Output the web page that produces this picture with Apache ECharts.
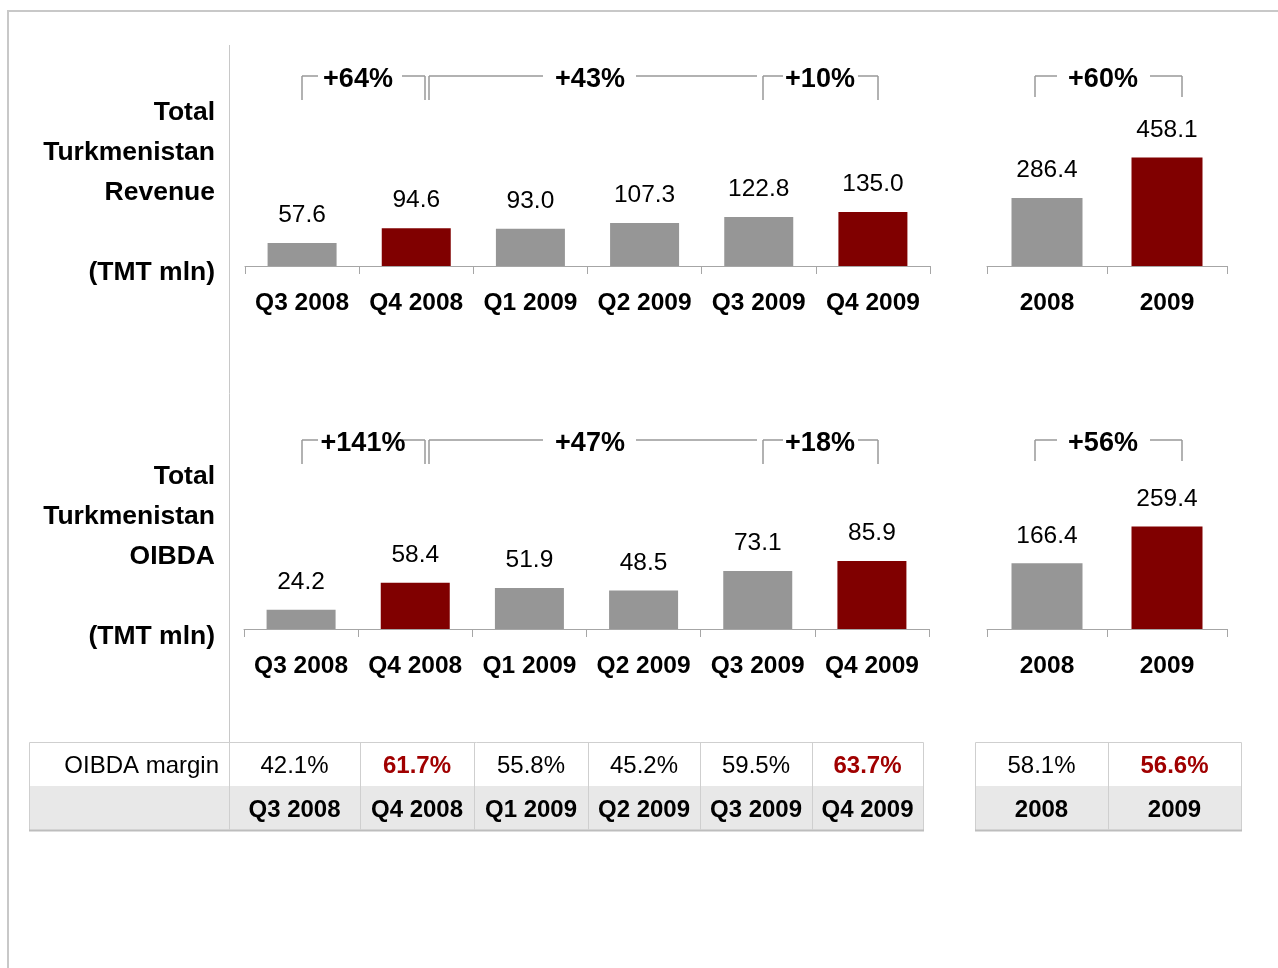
<!DOCTYPE html>
<html>
<head>
<meta charset="utf-8">
<script src="https://cdn.jsdelivr.net/npm/echarts@6/dist/echarts.min.js"></script>
<style>
html,body{margin:0;padding:0;background:#fff;}
#main{width:1278px;height:968px;}
</style>
</head>
<body>
<div id="main"></div>
<script>
// ---- Data ----
var quarters = ['Q3 2008', 'Q4 2008', 'Q1 2009', 'Q2 2009', 'Q3 2009', 'Q4 2009'];
var years = ['2008', '2009'];
var revenueQ = [57.6, 94.6, 93.0, 107.3, 122.8, 135.0];
var revenueY = [286.4, 458.1];
var oibdaQ = [24.2, 58.4, 51.9, 48.5, 73.1, 85.9];
var oibdaY = [166.4, 259.4];
var highlightQ = [false, true, false, false, false, true];
var highlightY = [false, true];
var marginQ = ['42.1%', '61.7%', '55.8%', '45.2%', '59.5%', '63.7%'];
var marginY = ['58.1%', '56.6%'];
var revGrowth = ['+64%', '+43%', '+10%'];
var revGrowthY = '+60%';
var oibdaGrowth = ['+141%', '+47%', '+18%'];
var oibdaGrowthY = '+56%';
var revTitle = ['Total', 'Turkmenistan', 'Revenue', '(TMT mln)'];
var oibdaTitle = ['Total', 'Turkmenistan', 'OIBDA', '(TMT mln)'];
var marginLabel = 'OIBDA margin';

var GRAY = '#969696', RED = '#800000', TXTRED = '#a00000', LINE = '#a6a6a6';
var FONT = '"Liberation Sans", Arial, sans-serif';

function barData(vals, hl) {
  return vals.map(function (v, i) {
    return { value: v, itemStyle: { color: hl[i] ? RED : GRAY } };
  });
}
function xAx(gi, cats) {
  return {
    type: 'category', gridIndex: gi, data: cats,
    axisLine: { lineStyle: { color: LINE, width: 1 } },
    axisTick: { show: true, length: 8, lineStyle: { color: LINE } },
    axisLabel: { margin: 25, color: '#000', fontWeight: 'bold', fontSize: 24.5, fontFamily: FONT, interval: 0 }
  };
}
function yAx(gi, max) {
  return { type: 'value', gridIndex: gi, min: 0, max: max, show: false, splitLine: { show: false } };
}
function barSeries(gi, vals, hl, bw) {
  return {
    type: 'bar', xAxisIndex: gi, yAxisIndex: gi, barWidth: bw,
    data: barData(vals, hl),
    label: { show: true, position: 'top', distance: 15, color: '#000', fontSize: 24.5, fontFamily: FONT,
      formatter: function (p) { return p.value.toFixed(1); } },
    silent: true, animation: false
  };
}

var chart = echarts.init(document.getElementById('main'), null, { renderer: 'canvas' });

var g = [];
// frame
g.push({ type: 'rect', shape: { x: 8, y: 11, width: 1400, height: 1100 }, style: { fill: 'none', stroke: '#c8c8c8', lineWidth: 2 }, silent: true });
// vertical divider
g.push({ type: 'line', shape: { x1: 229.5, y1: 45, x2: 229.5, y2: 742 }, style: { stroke: '#c8c8c8', lineWidth: 1 }, silent: true });

function addText(t, x, y, opt) {
  g.push({ type: 'text', style: Object.assign({ text: t, x: x, y: y, fill: '#000', align: 'center', verticalAlign: 'middle', font: 'bold 24px ' + FONT }, opt || {}), silent: true });
}
function addLine(x1, y1, x2, y2) {
  g.push({ type: 'line', shape: { x1: x1, y1: y1, x2: x2, y2: y2 }, style: { stroke: '#999', lineWidth: 1.5 }, silent: true });
}

// left titles
var TFONT = { align: 'right', font: 'bold 26.5px ' + FONT };
[113, 153, 193, 273].forEach(function (y, i) { addText(revTitle[i], 215, y, TFONT); });
[477, 517, 557, 637].forEach(function (y, i) { addText(oibdaTitle[i], 215, y, TFONT); });

// brackets
var BFONT = { font: 'bold 27px ' + FONT };
function brackets(top, depth, labels) {
  var b = top + depth;
  // bracket 1
  addLine(302, b, 302, top); addLine(302, top, 318, top); addLine(402, top, 425, top); addLine(425, top, 425, b);
  addText(labels[0], labels[0].length > 4 ? 363 : 358, top + 4, BFONT);
  // bracket 2
  addLine(429, b, 429, top); addLine(429, top, 543, top); addLine(636, top, 757, top);
  addText(labels[1], 590, top + 4, BFONT);
  // bracket 3
  addLine(763, b, 763, top); addLine(763, top, 783, top); addLine(858, top, 878, top); addLine(878, top, 878, b);
  addText(labels[2], 820, top + 4, BFONT);
}
function bracketY(top, depth, label) {
  var b = top + depth;
  addLine(1035, b, 1035, top); addLine(1035, top, 1057, top); addLine(1150, top, 1182, top); addLine(1182, top, 1182, b);
  addText(label, 1103, top + 4, BFONT);
}
brackets(76, 24, revGrowth);
bracketY(76, 21, revGrowthY);
brackets(440, 24, oibdaGrowth);
bracketY(440, 21, oibdaGrowthY);

// table
var colsQ = [229, 360, 474, 588, 700, 812, 923];
var colsY = [975, 1108, 1241];
var r0 = 742, r1 = 786, r2 = 830;
function table(left, cols, vals, labels, hl, firstLabel) {
  var right = cols[cols.length - 1];
  g.push({ type: 'rect', shape: { x: left, y: r1, width: right - left, height: r2 - r1 }, style: { fill: '#e8e8e8' }, silent: true });
  g.push({ type: 'rect', shape: { x: left + 0.5, y: r0 + 0.5, width: right - left, height: r2 - r0 }, style: { fill: 'none', stroke: '#cfcfcf', lineWidth: 1 }, silent: true });
  g.push({ type: 'line', shape: { x1: left, y1: r2 + 0.5, x2: right + 1, y2: r2 + 0.5 }, style: { stroke: '#bdbdbd', lineWidth: 2 }, silent: true });
  for (var i = 0; i < cols.length - 1; i++) {
    if (cols[i] > left) g.push({ type: 'line', shape: { x1: cols[i] + 0.5, y1: r0, x2: cols[i] + 0.5, y2: r2 }, style: { stroke: '#cfcfcf', lineWidth: 1 }, silent: true });
    var cx = (cols[i] + cols[i + 1]) / 2;
    addText(vals[i], cx, (r0 + r1) / 2 + 2, hl[i] ? { fill: TXTRED, font: 'bold 24px ' + FONT } : { font: '24px ' + FONT });
    addText(labels[i], cx, (r1 + r2) / 2 + 2, { font: 'bold 24px ' + FONT });
  }
  if (firstLabel) addText(firstLabel, cols[0] - 10, (r0 + r1) / 2 + 2, { align: 'right', font: '24px ' + FONT });
}
table(29, colsQ, marginQ, quarters, highlightQ, marginLabel);
table(975, colsY, marginY, years, highlightY, null);

var option = {
  backgroundColor: '#fff',
  animation: false,
  grid: [
    { left: 245, width: 685, top: 166, height: 100 },
    { left: 987, width: 240, top: 147.5, height: 118.5 },
    { left: 244, width: 685, top: 530, height: 99 },
    { left: 987, width: 240, top: 510.5, height: 118.5 }
  ],
  xAxis: [xAx(0, quarters), xAx(1, years), xAx(2, quarters), xAx(3, years)],
  yAxis: [yAx(0, 250), yAx(1, 500), yAx(2, 125), yAx(3, 300)],
  series: [
    barSeries(0, revenueQ, highlightQ, 69),
    barSeries(1, revenueY, highlightY, 71),
    barSeries(2, oibdaQ, highlightQ, 69),
    barSeries(3, oibdaY, highlightY, 71)
  ],
  graphic: { elements: g }
};
chart.setOption(option);
</script>
</body>
</html>
